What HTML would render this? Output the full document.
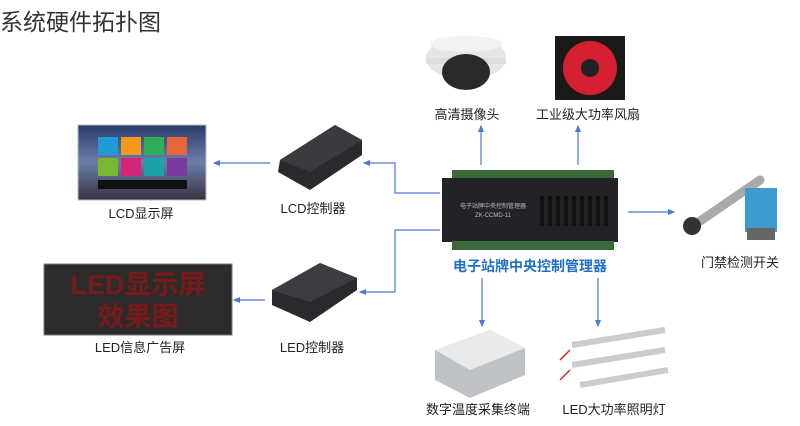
<!DOCTYPE html>
<html><head><meta charset="utf-8"><style>
body{margin:0;width:800px;height:426px;background:#fff;overflow:hidden;font-family:"Liberation Sans","Noto Sans CJK SC",sans-serif}
svg{position:absolute;left:0;top:0}
.t{font-family:"Liberation Sans","Noto Sans CJK SC",sans-serif;font-size:13px;fill:#222;text-anchor:middle}
</style></head><body>
<svg width="800" height="426" viewBox="0 0 800 426">
<defs><marker id="a" markerWidth="6" markerHeight="6" refX="5" refY="3" orient="auto"><path d="M0,0.5 L6,3 L0,5.5z" fill="#4a7bd0"/></marker>
<linearGradient id="sky" x1="0" y1="0" x2="0" y2="1"><stop offset="0" stop-color="#2a3a6a"/><stop offset="0.5" stop-color="#6a7fa8"/><stop offset="1" stop-color="#3a3040"/></linearGradient></defs>
<text x="0" y="30" style="font-size:23px;fill:#333;font-family:'Liberation Sans','Noto Sans CJK SC',sans-serif">系统硬件拓扑图</text>
<g stroke="#4a7bd0" stroke-width="1.2" fill="none">
<path d="M440 193 H395 V163 H364" marker-end="url(#a)"/>
<path d="M440 230 H395 V292 H360" marker-end="url(#a)"/>
<path d="M270 163 H214" marker-end="url(#a)"/>
<path d="M265 300 H234" marker-end="url(#a)"/>
<path d="M481 165 V126" marker-end="url(#a)"/>
<path d="M578 165 V126" marker-end="url(#a)"/>
<path d="M628 212 H674" marker-end="url(#a)"/>
<path d="M482 278 V326" marker-end="url(#a)"/>
<path d="M598 278 V326" marker-end="url(#a)"/>
</g>
<!-- LCD screen -->
<rect x="78" y="125" width="128" height="75" fill="url(#sky)" stroke="#bbb"/>
<g><rect x="98" y="137" width="20" height="18" fill="#1e9ad6"/><rect x="121" y="137" width="20" height="18" fill="#f39a1e"/><rect x="144" y="137" width="20" height="18" fill="#2fae5a"/><rect x="167" y="137" width="20" height="18" fill="#e8643a"/>
<rect x="98" y="158" width="20" height="18" fill="#7ab92d"/><rect x="121" y="158" width="20" height="18" fill="#d6247a"/><rect x="144" y="158" width="20" height="18" fill="#1ba3a8"/><rect x="167" y="158" width="20" height="18" fill="#7a3aa0"/>
<rect x="98" y="180" width="89" height="9" fill="#111"/></g>
<text class="t" x="141" y="218">LCD显示屏</text>
<!-- LCD controller -->
<path d="M280 160 L335 125 L362 140 L362 155 L310 190 L278 172z" fill="#2a2a2e"/>
<path d="M280 160 L335 125 L362 140 L310 172z" fill="#3a3a40"/>
<text class="t" x="313" y="213">LCD控制器</text>
<!-- LED screen -->
<rect x="44" y="264" width="188" height="71" fill="#2c2c2c" stroke="#777"/>
<text x="138" y="294" style="font-size:27px;fill:#7a1a1a;font-weight:bold;text-anchor:middle;font-family:'Liberation Sans','Noto Sans CJK SC',sans-serif">LED显示屏</text>
<text x="138" y="326" style="font-size:27px;fill:#7a1a1a;font-weight:bold;text-anchor:middle;font-family:'Liberation Sans','Noto Sans CJK SC',sans-serif">效果图</text>
<text class="t" x="140" y="352">LED信息广告屏</text>
<!-- LED controller -->
<path d="M272 290 L320 263 L357 278 L357 290 L310 322 L272 305z" fill="#2a2a2e"/>
<path d="M272 290 L320 263 L357 278 L310 302z" fill="#3c3c42"/>
<text class="t" x="312" y="352">LED控制器</text>
<!-- central -->
<rect x="452" y="170" width="162" height="10" fill="#3b6a3a"/>
<rect x="442" y="178" width="176" height="64" fill="#222326"/>
<rect x="452" y="241" width="162" height="9" fill="#3b6a3a"/>
<g fill="#111"><rect x="540" y="196" width="4" height="30"/><rect x="548" y="196" width="4" height="30"/><rect x="556" y="196" width="4" height="30"/><rect x="564" y="196" width="4" height="30"/><rect x="572" y="196" width="4" height="30"/><rect x="580" y="196" width="4" height="30"/><rect x="588" y="196" width="4" height="30"/><rect x="596" y="196" width="4" height="30"/><rect x="604" y="196" width="4" height="30"/></g>
<text x="493" y="208" style="font-size:6px;fill:#bbb;text-anchor:middle">电子站牌中央控制管理器</text>
<text x="493" y="217" style="font-size:6px;fill:#bbb;text-anchor:middle">ZK-CCMD-11</text>
<text x="530" y="271" style="font-size:14px;fill:#1e6fc8;font-weight:bold;text-anchor:middle;font-family:'Liberation Sans','Noto Sans CJK SC',sans-serif">电子站牌中央控制管理器</text>
<!-- camera -->
<ellipse cx="466" cy="58" rx="40" ry="22" fill="#e6e6e6"/><rect x="426" y="58" width="80" height="6" fill="#ddd"/>
<ellipse cx="466" cy="72" rx="24" ry="18" fill="#2a2a2a"/><ellipse cx="466" cy="44" rx="36" ry="8" fill="#f2f2f2"/>
<text class="t" x="467" y="119">高清摄像头</text>
<!-- fan -->
<rect x="555" y="36" width="70" height="64" fill="#1a1a1a"/><circle cx="590" cy="68" r="27" fill="#d42030"/><circle cx="590" cy="68" r="9" fill="#222"/>
<text class="t" x="588" y="119">工业级大功率风扇</text>
<!-- door switch -->
<path d="M690 228 L760 180" stroke="#aaa" stroke-width="9" stroke-linecap="round"/>
<circle cx="692" cy="226" r="9" fill="#333"/>
<rect x="745" y="188" width="32" height="44" fill="#3d9ad0"/><rect x="747" y="228" width="28" height="12" fill="#666"/>
<text class="t" x="740" y="267">门禁检测开关</text>
<!-- temp -->
<path d="M435 350 L490 330 L525 348 L525 375 L470 398 L435 380z" fill="#bfc3c6"/>
<path d="M435 350 L490 330 L525 348 L470 370z" fill="#e8eaec"/>
<text class="t" x="478" y="414">数字温度采集终端</text>
<!-- LED strip -->
<g stroke="#ccc" stroke-width="6"><path d="M572 345 L665 330"/><path d="M572 365 L665 350"/><path d="M580 385 L668 370"/></g>
<g stroke="#d22" stroke-width="1.5"><path d="M570 350 L560 360"/><path d="M570 370 L560 380"/></g>
<text class="t" x="614" y="414">LED大功率照明灯</text>
</svg>
</body></html>
